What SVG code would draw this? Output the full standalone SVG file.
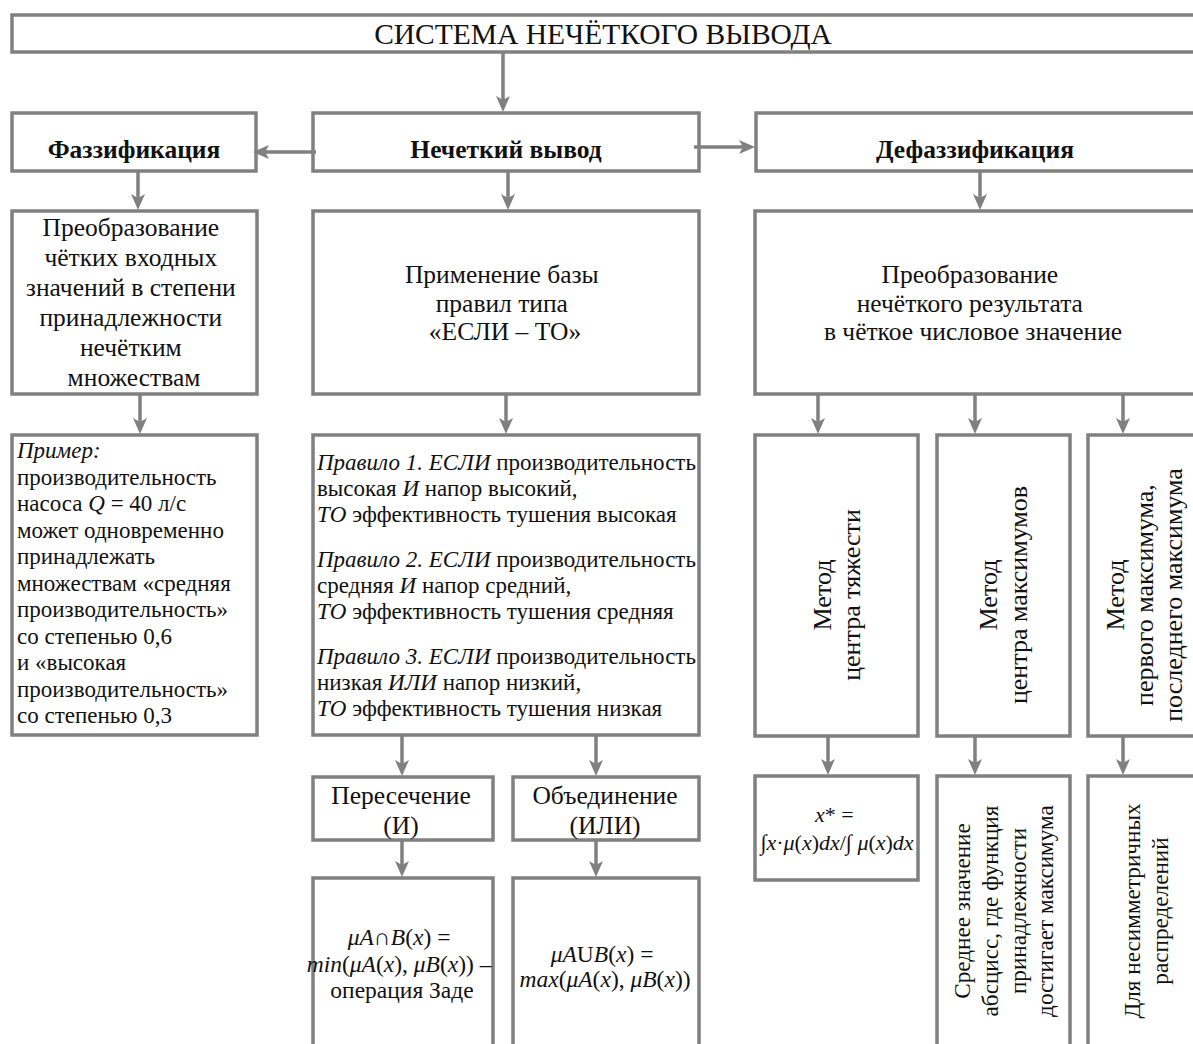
<svg xmlns="http://www.w3.org/2000/svg" width="1193" height="1044" viewBox="0 0 1193 1044">
<style>
.box{fill:#fff;stroke:#808080;stroke-width:3.5}
.t{font-family:"Liberation Serif","Times New Roman",serif;fill:#111}
.c{text-anchor:middle}
.b{font-weight:bold}
.i{font-style:italic}
.con line{stroke:#808080;stroke-width:3.5;marker-end:url(#ah)}
</style>
<defs>
<marker id="ah" markerUnits="userSpaceOnUse" viewBox="0 0 16 14" markerWidth="16" markerHeight="14" refX="10" refY="7" orient="auto">
<path d="M0,0 L16,7 L0,14 L4,7 Z" fill="#808080"/>
</marker>
</defs>
<rect width="1193" height="1044" fill="#fff"/>

<g id="title">
<rect class="box" x="12" y="15" width="1200" height="37"/>
<text class="t c" x="603" y="44" font-size="29.5">СИСТЕМА НЕЧЁТКОГО ВЫВОДА</text>
</g>

<g id="fuzz">
<rect class="box" x="12" y="113" width="244" height="58"/>
<text class="t c b" x="134" y="158" font-size="25.5">Фаззификация</text>
</g>
<g id="infer">
<rect class="box" x="313" y="113" width="386" height="58"/>
<text class="t c b" x="506" y="158" font-size="25.5">Нечеткий вывод</text>
</g>
<g id="defuzz">
<rect class="box" x="756" y="113" width="460" height="58"/>
<text class="t c b" x="975" y="158" font-size="25.5">Дефаззификация</text>
</g>

<g id="fuzz-desc">
<rect class="box" x="12" y="211" width="245" height="183"/>
<text class="t c" font-size="25.5">
<tspan x="134" y="236">Преобразование</tspan>
<tspan x="134" y="266">чётких входных</tspan>
<tspan x="134" y="296">значений в степени</tspan>
<tspan x="134" y="326">принадлежности</tspan>
<tspan x="134" y="356">нечётким</tspan>
<tspan x="134" y="386">множествам</tspan>
</text>
</g>
<g id="infer-desc">
<rect class="box" x="313" y="211" width="386" height="183"/>
<text class="t c" font-size="25.5">
<tspan x="505" y="283">Применение базы</tspan>
<tspan x="505" y="312">правил типа</tspan>
<tspan x="505" y="340">«ЕСЛИ – ТО»</tspan>
</text>
</g>
<g id="defuzz-desc">
<rect class="box" x="755" y="211" width="460" height="183"/>
<text class="t c" font-size="25.5">
<tspan x="973" y="283">Преобразование</tspan>
<tspan x="973" y="312">нечёткого результата</tspan>
<tspan x="973" y="340">в чёткое числовое значение</tspan>
</text>
</g>

<g id="example">
<rect class="box" x="12" y="435" width="245" height="300"/>
<text class="t" font-size="23">
<tspan x="17" y="458" class="i">Пример:</tspan>
<tspan x="17" y="484.5">производительность</tspan>
<tspan x="17" y="511">насоса <tspan class="i">Q</tspan> = 40 л/с</tspan>
<tspan x="17" y="537.5">может одновременно</tspan>
<tspan x="17" y="564">принадлежать</tspan>
<tspan x="17" y="590.5">множествам «средняя</tspan>
<tspan x="17" y="617">производительность»</tspan>
<tspan x="17" y="643.5">со степенью 0,6</tspan>
<tspan x="17" y="670">и «высокая</tspan>
<tspan x="17" y="696.5">производительность»</tspan>
<tspan x="17" y="723">со степенью 0,3</tspan>
</text>
</g>

<g id="rules">
<rect class="box" x="313" y="435" width="386" height="300"/>
<text class="t" font-size="23">
<tspan x="317" y="470"><tspan class="i">Правило 1. ЕСЛИ</tspan> производительность</tspan>
<tspan x="317" y="496">высокая <tspan class="i">И</tspan> напор высокий,</tspan>
<tspan x="317" y="522"><tspan class="i">ТО</tspan> эффективность тушения высокая</tspan>
<tspan x="317" y="567"><tspan class="i">Правило 2. ЕСЛИ</tspan> производительность</tspan>
<tspan x="317" y="593">средняя <tspan class="i">И</tspan> напор средний,</tspan>
<tspan x="317" y="619"><tspan class="i">ТО</tspan> эффективность тушения средняя</tspan>
<tspan x="317" y="664"><tspan class="i">Правило 3. ЕСЛИ</tspan> производительность</tspan>
<tspan x="317" y="690">низкая <tspan class="i">ИЛИ</tspan> напор низкий,</tspan>
<tspan x="317" y="716"><tspan class="i">ТО</tspan> эффективность тушения низкая</tspan>
</text>
</g>

<g id="intersect">
<rect class="box" x="313" y="777" width="180" height="63"/>
<text class="t c" font-size="25.5"><tspan x="401" y="804">Пересечение</tspan><tspan x="401" y="834">(И)</tspan></text>
</g>
<g id="union">
<rect class="box" x="513" y="777" width="186" height="63"/>
<text class="t c" font-size="25.5"><tspan x="605" y="804">Объединение</tspan><tspan x="605" y="834">(ИЛИ)</tspan></text>
</g>

<g id="min-formula">
<rect class="box" x="313" y="878" width="180" height="200"/>
<text class="t c" font-size="23.5">
<tspan x="402" y="945"><tspan class="i">μA</tspan>∩<tspan class="i">B</tspan>(<tspan class="i">x</tspan>) =</tspan>
<tspan x="402" y="972"><tspan class="i">min</tspan>(<tspan class="i">μA</tspan>(<tspan class="i">x</tspan>), <tspan class="i">μB</tspan>(<tspan class="i">x</tspan>)) –</tspan>
<tspan x="402" y="998">операция Заде</tspan>
</text>
</g>
<g id="max-formula">
<rect class="box" x="513" y="878" width="186" height="200"/>
<text class="t c" font-size="23.5">
<tspan x="605" y="962"><tspan class="i">μA</tspan>U<tspan class="i">B</tspan>(<tspan class="i">x</tspan>) =</tspan>
<tspan x="605" y="987"><tspan class="i">max</tspan>(<tspan class="i">μA</tspan>(<tspan class="i">x</tspan>), <tspan class="i">μB</tspan>(<tspan class="i">x</tspan>))</tspan>
</text>
</g>

<g id="method-cog">
<rect class="box" x="755" y="435" width="163" height="301"/>
<text class="t c" font-size="26" transform="rotate(-90 831 595)"><tspan x="831" y="595">Метод</tspan></text>
<text class="t c" font-size="26" transform="rotate(-90 860 595)"><tspan x="860" y="595">центра тяжести</tspan></text>
</g>
<g id="method-com">
<rect class="box" x="937" y="435" width="133" height="301"/>
<text class="t c" font-size="26" transform="rotate(-90 997 595)"><tspan x="997" y="595">Метод</tspan></text>
<text class="t c" font-size="26" transform="rotate(-90 1027 595)"><tspan x="1027" y="595">центра максимумов</tspan></text>
</g>
<g id="method-fl">
<rect class="box" x="1088" y="435" width="130" height="301"/>
<text class="t c" font-size="26" transform="rotate(-90 1124 595)"><tspan x="1124" y="595">Метод</tspan></text>
<text class="t c" font-size="26" transform="rotate(-90 1153 595)"><tspan x="1153" y="595">первого максимума,</tspan></text>
<text class="t c" font-size="26" transform="rotate(-90 1182 595)"><tspan x="1182" y="595">последнего максимума</tspan></text>
</g>

<g id="cog-formula">
<rect class="box" x="755" y="776" width="163" height="104"/>
<text class="t c" font-size="22">
<tspan x="837" y="822"><tspan class="i">x</tspan>* =</tspan>
<tspan x="837" y="850">∫<tspan class="i">x</tspan>·<tspan class="i">μ</tspan>(<tspan class="i">x</tspan>)<tspan class="i">dx</tspan>/∫ <tspan class="i">μ</tspan>(<tspan class="i">x</tspan>)<tspan class="i">dx</tspan></tspan>
</text>
</g>
<g id="com-desc">
<rect class="box" x="937" y="776" width="133" height="300"/>
<text class="t c" font-size="23.2" transform="rotate(-90 970 911)"><tspan x="970" y="911">Среднее значение</tspan></text>
<text class="t c" font-size="23.2" transform="rotate(-90 998 911)"><tspan x="998" y="911">абсцисс, где функция</tspan></text>
<text class="t c" font-size="23.2" transform="rotate(-90 1026 911)"><tspan x="1026" y="911">принадлежности</tspan></text>
<text class="t c" font-size="23.2" transform="rotate(-90 1053 911)"><tspan x="1053" y="911">достигает максимума</tspan></text>
</g>
<g id="fl-desc">
<rect class="box" x="1088" y="776" width="130" height="300"/>
<text class="t c" font-size="23.2" transform="rotate(-90 1140 911)"><tspan x="1140" y="911">Для несимметричных</tspan></text>
<text class="t c" font-size="23.2" transform="rotate(-90 1168 911)"><tspan x="1168" y="911">распределений</tspan></text>
</g>

<g id="connectors" class="con">
<line x1="503" y1="52" x2="503" y2="106"/>
<line x1="316" y1="152" x2="259" y2="152"/>
<line x1="694" y1="147" x2="749" y2="147"/>
<line x1="138" y1="171" x2="138" y2="204"/>
<line x1="508" y1="171" x2="508" y2="204"/>
<line x1="980" y1="171" x2="980" y2="204"/>
<line x1="140" y1="394" x2="140" y2="428"/>
<line x1="506" y1="394" x2="506" y2="428"/>
<line x1="818" y1="394" x2="818" y2="428"/>
<line x1="975" y1="394" x2="975" y2="428"/>
<line x1="1123" y1="394" x2="1123" y2="428"/>
<line x1="402" y1="735" x2="402" y2="770"/>
<line x1="596" y1="735" x2="596" y2="770"/>
<line x1="402" y1="840" x2="402" y2="871"/>
<line x1="596" y1="840" x2="596" y2="871"/>
<line x1="828" y1="736" x2="828" y2="769"/>
<line x1="975" y1="736" x2="975" y2="769"/>
<line x1="1123" y1="736" x2="1123" y2="769"/>
</g>
</svg>
